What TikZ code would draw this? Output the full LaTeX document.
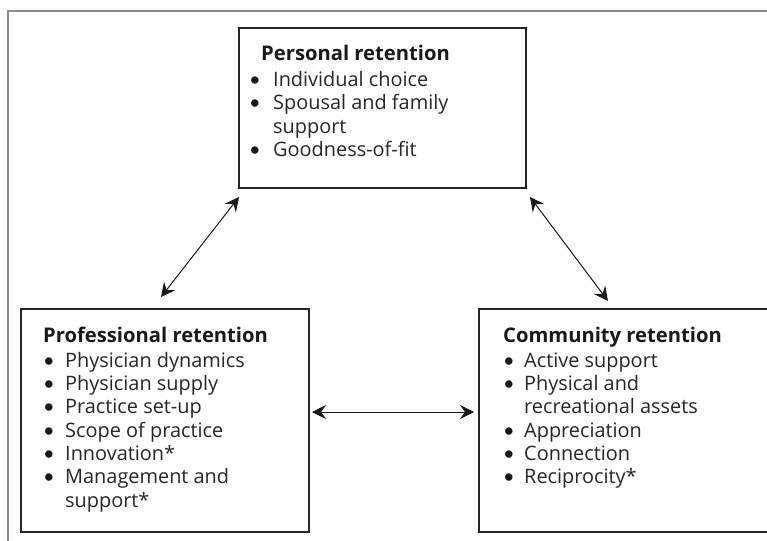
\documentclass[tikz,border=0pt]{standalone}
\usepackage{fontspec}
\setmainfont{Open Sans}
\newfontfamily\bulletfont{Lato}
\usetikzlibrary{arrows.meta,calc}
\begin{document}
\begin{tikzpicture}[x=1pt,y=-1pt,
  frameline/.style={draw=black!45, line width=1.5pt},
  boxstyle/.style={draw=black!85, line width=1.4pt, inner sep=0pt, outer sep=0pt, anchor=north west},
  ttl/.style={anchor=base west, inner sep=0pt, text=black!90, font=\fontsize{20.2}{24}\selectfont\bfseries},
  itm/.style={anchor=base west, inner sep=0pt, text=black!85, font=\fontsize{19.9}{23}\selectfont},
  blt/.style={anchor=base west, inner sep=0pt, text=black!90, font=\bulletfont\fontsize{20}{23}\selectfont},
  arr/.style={{Stealth[length=14pt,width=14pt,inset=5pt]}-{Stealth[length=14pt,width=14pt,inset=5pt]}, line width=1pt, black!90}]
\useasboundingbox (0,0) rectangle (767,540);
\draw[frameline] (8,541) -- (8,11) -- (768,11);
% boxes
\node[boxstyle, minimum width=287pt, minimum height=160pt] (pers) at (239,28) {};
\node[boxstyle, minimum width=288pt, minimum height=223pt] (prof) at (21,309) {};
\node[boxstyle, minimum width=289pt, minimum height=223pt] (comm) at (479,309) {};
% personal text
\node[ttl] (pt) at (261,60.7) {Personal retention};
\node[blt] (pb1) at (249,86.7) {\textbullet};
\node[itm] (pi1) at (273,86.7) {Individual choice};
\node[blt] (pb2) at (249,110) {\textbullet};
\node[itm] (pi2) at (273,110) {Spousal and family};
\node[itm] (pi2b) at (273,133.3) {support};
\node[blt] (pb3) at (249,156.7) {\textbullet};
\node[itm] (pi3) at (273,156.7) {Goodness-of-fit};
% professional text
\node[ttl] (ft) at (43,342) {Professional retention};
\node[blt] (fb1) at (43,367) {\textbullet};
\node[itm] (fi1) at (65,367) {Physician dynamics};
\node[blt] (fb2) at (43,390.3) {\textbullet};
\node[itm] (fi2) at (65,390.3) {Physician supply};
\node[blt] (fb3) at (43,413.6) {\textbullet};
\node[itm] (fi3) at (65,413.6) {Practice set-up};
\node[blt] (fb4) at (43,437) {\textbullet};
\node[itm] (fi4) at (65,437) {Scope of practice};
\node[blt] (fb5) at (43,460.3) {\textbullet};
\node[itm] (fi5) at (65,460.3) {Innovation*};
\node[blt] (fb6) at (43,483.6) {\textbullet};
\node[itm] (fi6) at (65,483.6) {Management and};
\node[itm] (fi6b) at (65,507) {support*};
% community text
\node[ttl] (ct) at (503,342) {Community retention};
\node[blt] (cb1) at (503,367) {\textbullet};
\node[itm] (ci1) at (524,367) {Active support};
\node[blt] (cb2) at (503,390.3) {\textbullet};
\node[itm] (ci2) at (524,390.3) {Physical and};
\node[itm] (ci2b) at (524,413.6) {recreational assets};
\node[blt] (cb3) at (503,437) {\textbullet};
\node[itm] (ci3) at (524,437) {Appreciation};
\node[blt] (cb4) at (503,460.3) {\textbullet};
\node[itm] (ci4) at (524,460.3) {Connection};
\node[blt] (cb5) at (503,483.6) {\textbullet};
\node[itm] (ci5) at (524,483.6) {Reciprocity*};
% arrow ends
\coordinate (a1) at ($(prof.north west)+(140,-12)$);
\coordinate (a2) at ($(pers.south west)+(0,9)$);
\coordinate (b1) at ($(pers.south east)+(4,9)$);
\coordinate (b2) at ($(comm.north west)+(129,-8)$);
\coordinate (c1) at ($(prof.north east)+(3,103)$);
\coordinate (c2) at ($(comm.north west)+(-5,103)$);
\draw[arr] (a1) -- (a2);
\draw[arr] (b1) -- (b2);
\draw[arr] (c1) -- (c2);
\end{tikzpicture}
\end{document}
